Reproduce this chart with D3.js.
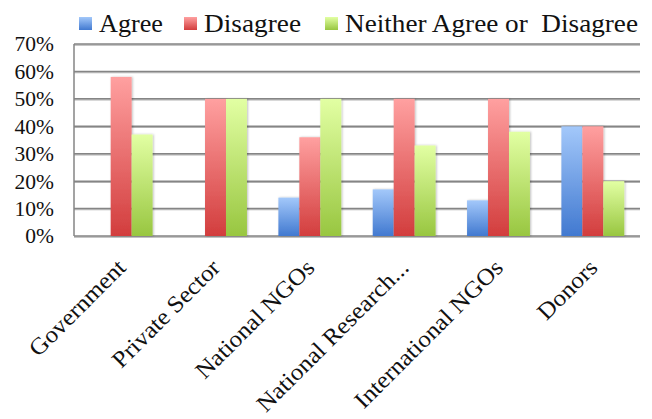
<!DOCTYPE html>
<html><head><meta charset="utf-8">
<script src="https://cdn.jsdelivr.net/npm/d3@7"></script>
<style>body{margin:0;background:#fff}svg{display:block}text{font-family:"Liberation Serif","DejaVu Serif",serif;fill:#111;white-space:pre}</style>
</head><body>
<script>
const categories = ["Government","Private Sector","National NGOs","National Research...","International NGOs","Donors"];
const seriesNames = ["Agree","Disagree","Neither Agree or  Disagree"];
const agree = [0,0,14,17,13,40];
const disagree = [58,50,36,50,50,40];
const neither = [37,50,50,33,38,20];
const yTicks = [0,10,20,30,40,50,60,70];

const W=652,H=419;
const m={l:74,r:12,t:44,b:183};
const svg=d3.select("body").append("svg").attr("width",W).attr("height",H);
const defs=svg.append("defs");
const grads=[["#a3c8fa","#4179d0"],["#ffa0a0","#d23d3d"],["#e2ffa3","#98c640"]];
grads.forEach((g,i)=>{
  const lg=defs.append("linearGradient").attr("id","g"+i).attr("x1",0).attr("y1",0).attr("x2",0).attr("y2",1);
  lg.append("stop").attr("offset","0%").attr("stop-color",g[0]);
  lg.append("stop").attr("offset","100%").attr("stop-color",g[1]);
});
const f=defs.append("filter").attr("id","sh").attr("x","-20%").attr("y","-20%").attr("width","150%").attr("height","150%");
f.append("feDropShadow").attr("dx",1).attr("dy",0).attr("stdDeviation",1.2).attr("flood-color","#000").attr("flood-opacity",0.25);
const f2=defs.append("filter").attr("id","lsh").attr("x","-5%").attr("y","-200%").attr("width","110%").attr("height","500%");
f2.append("feDropShadow").attr("dx",0).attr("dy",1).attr("stdDeviation",0.7).attr("flood-color","#000").attr("flood-opacity",0.3);

const x=d3.scaleBand().domain(categories).range([m.l,W-m.r]);
const y=d3.scaleLinear().domain([0,70]).range([H-m.b,m.t]);
const bw=x.bandwidth()/4.5;
const data=[agree,disagree,neither];

// gridlines
svg.append("g").attr("filter","url(#lsh)").selectAll("line").data(yTicks).join("line")
  .attr("x1",m.l).attr("x2",W-m.r).attr("y1",d=>y(d)).attr("y2",d=>y(d))
  .attr("stroke","#858585").attr("stroke-width",1.5);
svg.append("line").attr("x1",m.l).attr("x2",m.l).attr("y1",y(70)).attr("y2",y(0)).attr("stroke","#858585").attr("stroke-width",1.5);

// y axis
const ya=svg.append("g").attr("transform",`translate(${m.l},0)`)
  .call(d3.axisLeft(y).tickValues(yTicks).tickFormat(d=>d+"%").tickSize(0).tickPadding(20));
ya.select(".domain").remove();
ya.selectAll("text").attr("font-size",21.5).attr("font-family","Liberation Serif");

// bars
data.forEach((s,si)=>{
  svg.append("g").selectAll("rect").data(s).join("rect")
    .attr("x",(d,i)=>x(categories[i])+x.bandwidth()/2-1.5*bw+si*bw)
    .attr("width",bw)
    .attr("y",d=>y(d)).attr("height",d=>y(0)-y(d))
    .attr("fill",`url(#g${si})`).attr("filter",d=>d>0?"url(#sh)":null);
});

// x axis labels
const xa=svg.append("g").attr("transform",`translate(0,${y(0)})`)
  .call(d3.axisBottom(x).tickSize(0).tickPadding(0));
xa.select(".domain").remove();
xa.selectAll("text").attr("font-size",23.5).attr("font-family","Liberation Serif")
  .attr("text-anchor","end").attr("dy",0)
  .attr("transform",`translate(6,33) rotate(-45)`)
  .each(function(){ const n=this.getComputedTextLength(); d3.select(this).attr("textLength",n*1.07).attr("lengthAdjust","spacingAndGlyphs"); });

// legend
const legX=[79,184,325];
const legW=[64,97,293];
const lg=svg.append("g");
seriesNames.forEach((n,i)=>{
  lg.append("rect").attr("x",legX[i]).attr("y",17).attr("width",13).attr("height",13).attr("fill",`url(#g${i})`);
  lg.append("text").attr("x",legX[i]+20).attr("y",32).attr("font-size",25)
    .attr("textLength",legW[i]).attr("lengthAdjust","spacingAndGlyphs").text(n);
});
</script>
</body></html>
